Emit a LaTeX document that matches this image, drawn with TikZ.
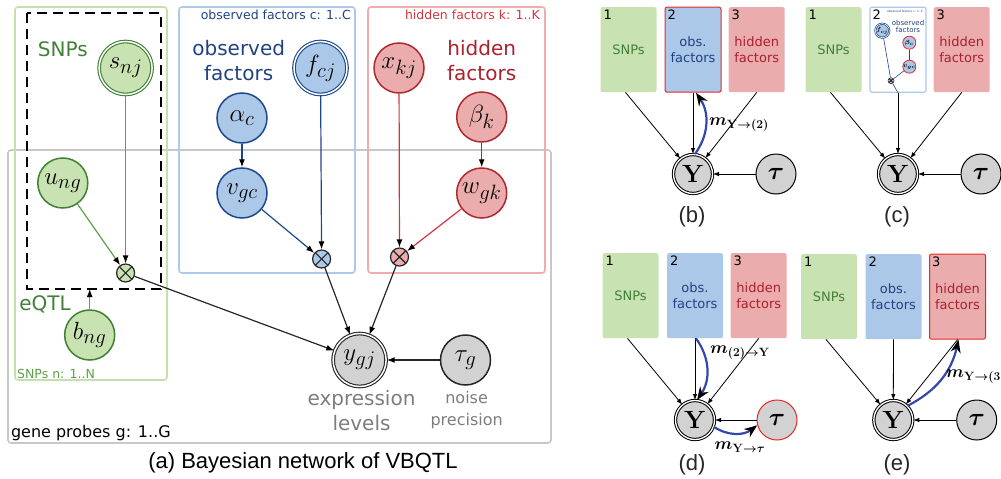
\documentclass[tikz,border=0pt]{standalone}
\usepackage[no-math]{fontspec}
\setmainfont{Liberation Sans}
\newfontfamily\dvsans{DejaVu Sans}
\usepackage{bm}
\usetikzlibrary{arrows.meta}

\definecolor{snpfill}{RGB}{201,226,178}
\definecolor{snpline}{RGB}{62,128,52}
\definecolor{snpedge}{RGB}{92,160,72}
\definecolor{snptext}{RGB}{66,128,56}
\definecolor{snpplate}{RGB}{196,224,172}
\definecolor{obsfill}{RGB}{172,200,232}
\definecolor{obsline}{RGB}{30,72,140}
\definecolor{obstext}{RGB}{32,66,130}
\definecolor{obsplate}{RGB}{172,200,236}
\definecolor{hidfill}{RGB}{234,172,172}
\definecolor{hidline}{RGB}{176,40,44}
\definecolor{hidedge}{RGB}{214,52,60}
\definecolor{hidtext}{RGB}{172,32,44}
\definecolor{hidplate}{RGB}{240,172,172}
\definecolor{exprfill}{RGB}{210,210,210}
\definecolor{exprplate}{RGB}{200,200,200}
\definecolor{exprtext}{RGB}{125,125,125}
\definecolor{msgblue}{RGB}{52,72,172}
\definecolor{hilite}{RGB}{232,40,40}

\tikzset{
  var/.style={circle, draw, line width=1.5pt, minimum size=50pt, inner sep=0pt,
    font=\fontsize{30}{30}\selectfont},
  seen/.style={double=white, double distance=1.5pt, line width=1.1pt, minimum size=53pt},
  snp/.style={var, draw=snpline, fill=snpfill},
  obs/.style={var, draw=obsline, fill=obsfill},
  hid/.style={var, draw=hidline, fill=hidfill},
  expr/.style={var, draw=black!85, fill=exprfill},
  prod/.style={circle, draw=black!85, line width=1.2pt, minimum size=18pt, inner sep=0pt,
    path picture={\draw[line width=1.1pt, black!85]
      (path picture bounding box.north west) -- (path picture bounding box.south east)
      (path picture bounding box.north east) -- (path picture bounding box.south west);}},
  plate/.style={rounded corners=3pt, line width=1.6pt},
  link/.style={-{Latex[black,length=8pt,width=6pt]}, line width=1.2pt},
  bigtext/.style={font=\dvsans\fontsize{20}{25}\selectfont, align=center, inner sep=0pt},
  platetext/.style={font=\dvsans\fontsize{12.5}{14}\selectfont, inner sep=0pt},
  % right panels
  factbox/.style={rectangle, rounded corners=2pt, minimum width=56pt, minimum height=85pt,
    inner sep=0pt, font=\dvsans\fontsize{13}{15.5}\selectfont, align=center},
  boxnum/.style={anchor=north west, inner sep=0pt, font=\dvsans\fontsize{13}{13}\selectfont},
  bigY/.style={circle, draw=black, fill=exprfill, line width=1pt, double=white,
    double distance=1.3pt, minimum size=39pt, inner sep=0pt, font=\fontsize{25}{25}\selectfont},
  prec/.style={circle, draw=black, fill=exprfill, line width=1pt, minimum size=40pt,
    inner sep=0pt, font=\fontsize{25}{25}\selectfont},
  flow/.style={-{Latex[black,length=6pt,width=4.5pt]}, line width=0.8pt},
  msg/.style={-{Stealth[black,length=13pt,width=10pt]}, line width=2.2pt, draw=msgblue},
  msglabel/.style={inner sep=0pt, font=\fontsize{18}{18}\selectfont},
  caption/.style={font=\fontsize{22}{22}\selectfont, inner sep=0pt, text=black!85},
  mini/.style={circle, line width=0.8pt, fill=obsfill, minimum size=13pt, inner sep=0pt,
    font=\fontsize{6}{6}\selectfont}
}

\begin{document}
\begin{tikzpicture}[x=1pt, y=-1pt]
  \useasboundingbox (0,0) rectangle (1001,479);

  % (a) plates
  \draw[plate, draw=exprplate] (8,150) rectangle (551,443);
  \draw[plate, draw=snpplate] (15,7) rectangle (167,380);
  \draw[plate, draw=obsplate] (179,7) rectangle (355,273);
  \draw[plate, draw=hidplate] (368,7) rectangle (545,273);
  \draw[line width=1.8pt, dash pattern=on 10pt off 6pt] (27,13) rectangle (161,289);
  \coordinate (eqtl) at (89.7,289);

  % (a) variables
  \draw
    (125.6,68) node[snp, seen] (snj) {$s_{nj}$}
    (62.8,183) node[snp] (ung) {$u_{ng}$}
    (89.7,335) node[snp] (bng) {$b_{ng}$}
    (125.6,273) node[prod, fill=snpfill] (snpprod) {}
    (242,118) node[obs] (alphac) {$\alpha_c$}
    (242,193) node[obs] (vgc) {$v_{gc}$}
    (320.5,68) node[obs, seen] (fcj) {$f_{cj}$}
    (321.6,259) node[prod, fill=obsfill] (obsprod) {}
    (399,68) node[hid] (xkj) {$x_{kj}$}
    (481.7,117) node[hid] (betak) {$\beta_k$}
    (481.7,193) node[hid] (wgk) {$w_{gk}$}
    (399.5,257) node[prod, fill=hidfill] (hidprod) {}
    (359.6,360) node[expr, seen] (ygj) {$y_{gj}$}
    (465.5,360) node[expr] (taug) {$\tau_g$};

  \node[bigtext, text=snptext] (snplabel) at (62.8,49) {SNPs};
  \node[bigtext, text=obstext] (obslabel) at (238.7,60.5) {observed\\factors};
  \node[bigtext, text=hidtext] (hidlabel) at (481.7,60.5) {hidden\\factors};
  \node[bigtext, text=snptext] (eqtllabel) at (45,304) {eQTL};
  \node[bigtext, text=exprtext] (exprlabel) at (361.5,410.5) {expression\\levels};
  \node[bigtext, text=exprtext, font=\dvsans\fontsize{16}{22}\selectfont] (noiselabel) at (466.6,410) {noise\\precision};
  \node[platetext, anchor=west, font=\dvsans\fontsize{16}{16}\selectfont] (geneplate) at (10.8,433) {gene probes g: 1..G};
  \node[platetext, anchor=west, text=snpedge] (snpplatelabel) at (17,374) {SNPs n: 1..N};
  \node[platetext, anchor=east, text=obstext] (obsplatelabel) at (351,15) {observed factors c: 1..C};
  \node[platetext, anchor=east, text=hidedge] (hidplatelabel) at (540,15) {hidden factors k: 1..K};
  \node[caption, text=black] (capa) at (303,463) {(a) Bayesian network of VBQTL};

  \begin{scope}[link]
    \draw[snpedge] (snj) -- (snpprod);
    \draw[snpedge] (ung) -- (snpprod);
    \draw[snpedge] (bng) -- (eqtl);
    \draw[obsline] (alphac) -- (vgc);
    \draw[obsline] (vgc) -- (obsprod);
    \draw[obsline] (fcj) -- (obsprod);
    \draw[hidline] (betak) -- (wgk);
    \draw[hidedge] (wgk) -- (hidprod);
    \draw[hidedge] (xkj) -- (hidprod);
    \draw[black!85] (snpprod) -- (ygj);
    \draw[black!85] (obsprod) -- (ygj);
    \draw[black!85] (hidprod) -- (ygj);
    \draw[black!85, line width=1.7pt] (taug) -- (ygj);
  \end{scope}

  % (b)
  \node[factbox, fill=snpfill, text=snptext] (snpb) at (628.5,49.7) {SNPs};
  \node[factbox, fill=obsfill, text=obstext, draw=hilite, line width=1pt] (obsb) at (693,49.7) {obs.\\factors};
  \node[factbox, fill=hidfill, text=hidtext] (hidb) at (756.7,49.7) {hidden\\factors};
  \node[boxnum] (snpbnum) at ([xshift=3pt,yshift=-3pt]snpb.north west) {1};
  \node[boxnum] (obsbnum) at ([xshift=3pt,yshift=-3pt]obsb.north west) {2};
  \node[boxnum] (hidbnum) at ([xshift=3pt,yshift=-3pt]hidb.north west) {3};
  \node[bigY] (yb) at (693,174) {$\mathbf{Y}$};
  \node[prec] (taub) at (776,174) {$\bm{\tau}$};
  \node[caption] (capb) at (692,217) {(b)};
  \begin{scope}[flow]
    \draw ([xshift=-3pt]snpb.south) -- (yb);
    \draw (obsb.south) -- (yb.north);
    \draw (hidb.south) -- (yb);
    \draw (taub) -- (yb);
  \end{scope}
  \draw[msg] ([xshift=2pt]yb.north) to[bend right=35] ([xshift=3pt]obsb.south);
  \node[msglabel] (msgb) at (739,125) {$\bm{m_{\mathbf{Y}\to(2)}}$};

  % (c)
  \node[factbox, fill=snpfill, text=snptext] (snpc) at (833.5,49.7) {SNPs};
  \node[factbox, fill=white, draw=obsplate, line width=1.2pt] (obsc) at (898,49.7) {};
  \node[factbox, fill=hidfill, text=hidtext] (hidc) at (961.7,49.7) {hidden\\factors};
  \node[boxnum] (snpcnum) at ([xshift=3pt,yshift=-3pt]snpc.north west) {1};
  \node[boxnum] (obscnum) at ([xshift=3pt,yshift=-3pt]obsc.north west) {2};
  \node[boxnum] (hidcnum) at ([xshift=3pt,yshift=-3pt]hidc.north west) {3};
  \node[font=\dvsans\fontsize{3}{3}\selectfont, text=obstext, inner sep=0pt] (miniplate) at (905,11.5) {observed factors c: 1..C};
  \node[font=\dvsans\fontsize{7}{7.5}\selectfont, text=obstext, align=center, inner sep=0pt] (minilabel) at (908,26.5) {observed\\factors};
  \node[mini, draw=obsline, double=white, double distance=0.6pt, line width=0.7pt, minimum size=14pt] (fcjmini) at (882.3,30.7) {$\bm{f_{cj}}$};
  \node[mini, draw=hilite] (betamini) at (909.3,42.7) {$\bm{\beta_c}$};
  \node[mini, draw=hilite] (vmini) at (909.3,66.7) {$\bm{v_{gc}}$};
  \node[prod, fill=exprfill, minimum size=6pt, line width=0.5pt] (prodmini) at (891,80.7) {};
  \draw[obsline, line width=0.6pt] (fcjmini) -- (prodmini);
  \draw[obsline, line width=0.6pt] (betamini) -- (vmini);
  \draw[obsline, line width=0.6pt] (vmini) -- (prodmini);
  \draw[obsline, line width=0.6pt] (prodmini) -- (obsc.south);
  \node[bigY] (yc) at (898,174) {$\mathbf{Y}$};
  \node[prec] (tauc) at (981,174) {$\bm{\tau}$};
  \node[caption] (capc) at (897,217) {(c)};
  \begin{scope}[flow]
    \draw ([xshift=-3pt]snpc.south) -- (yc);
    \draw (obsc.south) -- (yc.north);
    \draw (hidc.south) -- (yc);
    \draw (tauc) -- (yc);
  \end{scope}

  % (d)
  \node[factbox, fill=snpfill, text=snptext] (snpd) at (630.5,295.7) {SNPs};
  \node[factbox, fill=obsfill, text=obstext] (obsd) at (695,295.7) {obs.\\factors};
  \node[factbox, fill=hidfill, text=hidtext] (hidd) at (758.7,295.7) {hidden\\factors};
  \node[boxnum] (snpdnum) at ([xshift=3pt,yshift=-3pt]snpd.north west) {1};
  \node[boxnum] (obsdnum) at ([xshift=3pt,yshift=-3pt]obsd.north west) {2};
  \node[boxnum] (hiddnum) at ([xshift=3pt,yshift=-3pt]hidd.north west) {3};
  \node[bigY] (yd) at (695,420) {$\mathbf{Y}$};
  \node[prec, draw=hilite] (taud) at (777,420) {$\bm{\tau}$};
  \node[caption] (capd) at (692,465) {(d)};
  \begin{scope}[flow]
    \draw ([xshift=-3pt]snpd.south) -- (yd);
    \draw (obsd.south) -- (yd.north);
    \draw (hidd.south) -- (yd);
    \draw (taud) -- (yd);
  \end{scope}
  \draw[msg] ([xshift=1pt]obsd.south) to[bend left=35] ([xshift=2pt]yd.north);
  \node[msglabel] (msgd) at (740,353) {$\bm{m_{(2)\to\mathbf{Y}}}$};
  \draw[msg] (yd.-20) to[bend right=35] (taud.195);
  \node[msglabel] (msgdtau) at (740,447) {$\bm{m_{\mathbf{Y}\to\tau}}$};

  % (e)
  \node[factbox, fill=snpfill, text=snptext] (snpe) at (829,296.7) {SNPs};
  \node[factbox, fill=obsfill, text=obstext] (obse) at (893.5,296.7) {obs.\\factors};
  \node[factbox, fill=hidfill, text=hidtext, draw=hilite, line width=1pt] (hide) at (957.5,296.7) {hidden\\factors};
  \node[boxnum] (snpenum) at ([xshift=3pt,yshift=-3pt]snpe.north west) {1};
  \node[boxnum] (obsenum) at ([xshift=3pt,yshift=-3pt]obse.north west) {2};
  \node[boxnum] (hideenum) at ([xshift=3pt,yshift=-3pt]hide.north west) {3};
  \node[bigY] (ye) at (893.3,420) {$\mathbf{Y}$};
  \node[prec] (taue) at (976.7,420) {$\bm{\tau}$};
  \node[caption] (cape) at (897,465) {(e)};
  \begin{scope}[flow]
    \draw ([xshift=-3pt]snpe.south) -- (ye);
    \draw (obse.south) -- (ye.north);
    \draw (hide.south) -- (ye);
    \draw (taue) -- (ye);
  \end{scope}
  \draw[msg] (ye.45) to[bend right=25] ([xshift=1pt]hide.south);
  \node[msglabel, anchor=west] (msge) at (946,377) {$\bm{m_{\mathbf{Y}\to(3)}}$};
\end{tikzpicture}
\end{document}
